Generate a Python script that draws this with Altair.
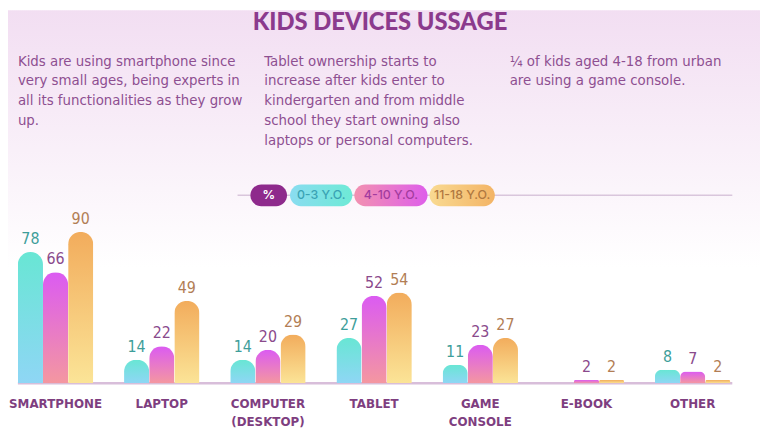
import altair as alt
import pandas as pd

# ---- data ----
categories = ["SMARTPHONE", "LAPTOP", "COMPUTER\n(DESKTOP)", "TABLET", "GAME\nCONSOLE", "E-BOOK", "OTHER"]
ages = ["0-3 Y.O.", "4-10 Y.O.", "11-18 Y.O."]
v_0_3 = [78, 14, 14, 27, 11, None, 8]
v_4_10 = [66, 22, 20, 52, 23, 2, 7]
v_11_18 = [90, 49, 29, 54, 27, 2, 2]

title_text = "KIDS DEVICES USSAGE"
notes = [
    "Kids are using smartphone since\nvery small ages, being experts in\nall its functionalities as they grow\nup.",
    "Tablet ownership starts to\nincrease after kids enter to\nkindergarten and from middle\nschool they start owning also\nlaptops or personal computers.",
    "\u00bc of kids aged 4-18  from urban\nare using a game console.",
]

rows = []
for age, vals in zip(ages, [v_0_3, v_4_10, v_11_18]):
    for c, v in zip(categories, vals):
        rows.append({"cat": c, "age": age, "value": v})
df = pd.DataFrame(rows)

# ---- styles ----
W, H = 760, 435
PURPLE = "#8B3A8D"
TEXT_PURPLE = "#8E4F91"
COND_FONT = "Liberation Sans Narrow, DejaVu Sans Condensed, Roboto, sans-serif"


def vgrad(top, bottom):
    return alt.LinearGradient(gradient="linear",
                              stops=[alt.GradientStop(color=top, offset=0),
                                     alt.GradientStop(color=bottom, offset=1)],
                              x1=0, x2=0, y1=0, y2=1)


def hgrad(left, right):
    return alt.LinearGradient(gradient="linear",
                              stops=[alt.GradientStop(color=left, offset=0),
                                     alt.GradientStop(color=right, offset=1)],
                              x1=0, x2=1, y1=0, y2=0)


bar_grads = [vgrad("#68E6D4", "#8FD6F5"), vgrad("#DB5BF2", "#F497A0"), vgrad("#F2AC5C", "#FBE497")]
label_colors = ["#3E9E9A", "#8A4A8C", "#B27E55"]

xscale = alt.Scale(domain=categories, range=[-5.6, 745.6], paddingInner=0.29, paddingOuter=0.145)
yscale = alt.Scale(domain=[0, 100], range=[377, 207])
xoff = alt.XOffset("age:N", scale=alt.Scale(domain=ages), sort=ages)

one = alt.Data(values=[{"a": 1}])

layers = []
# background
layers.append(alt.Chart(one).mark_rect(color=vgrad("#F2DEF2", "#FFFFFF")).encode(
    x=alt.value(0), x2=alt.value(W), y=alt.value(0), y2=alt.value(260)))

# title
layers.append(alt.Chart(one).mark_text(text=title_text, font="Lato", fontWeight=900, fontSize=24,
                                       color=PURPLE, baseline="top", align="center").encode(
    x=alt.value(376), y=alt.value(1)))

# notes
for note, xpos in zip(notes, [10, 259, 507]):
    layers.append(alt.Chart(one).mark_text(text=note, lineBreak="\n", font=COND_FONT, fontSize=15,
                                           lineHeight=20, color=TEXT_PURPLE, align="left",
                                           baseline="top").encode(
        x=alt.value(xpos), y=alt.value(44)))

# legend line
layers.append(alt.Chart(one).mark_rule(color="#D9C6DC", strokeWidth=1.5).encode(
    x=alt.value(232), x2=alt.value(732), y=alt.value(187)))

# legend pills
pill_specs = [
    ("%", 245, 282, "#8E2A8C", "#FFFFFF"),
    (ages[0], 285, 348, hgrad("#8ADCF0", "#6EEAD6"), "#3AA3B4"),
    (ages[1], 350, 424, hgrad("#F291B0", "#DE5EEA"), "#A23C9E"),
    (ages[2], 426, 492, hgrad("#F9DA92", "#F3B466"), "#B07840"),
]
for lab, x0, x1, fill, tcol in pill_specs:
    layers.append(alt.Chart(one).mark_rect(color=fill, cornerRadius=11).encode(
        x=alt.value(x0), x2=alt.value(x1), y=alt.value(176), y2=alt.value(198)))
    layers.append(alt.Chart(one).mark_text(text=lab, font="Inter, Lato, sans-serif",
                                           fontWeight=700 if lab == "%" else 500,
                                           fontSize=12.5, color=tcol, align="center",
                                           baseline="middle").encode(
        x=alt.value((x0 + x1) / 2), y=alt.value(187)))

# baseline
layers.append(alt.Chart(one).mark_rule(color="#D8BEDA", strokeWidth=2.5).encode(
    x=alt.value(10), x2=alt.value(732), y=alt.value(377)))

# bars and value labels
for age, grad, lcol in zip(ages, bar_grads, label_colors):
    base = alt.Chart(df).transform_filter(alt.datum.age == age).encode(
        x=alt.X("cat:N", scale=xscale, axis=None, sort=categories),
        xOffset=xoff,
        y=alt.Y("value:Q", scale=yscale, axis=None),
    )
    layers.append(base.mark_bar(color=grad, cornerRadiusTopLeft=12.5, cornerRadiusTopRight=12.5))
    layers.append(base.mark_text(font=COND_FONT, fontSize=16, color=lcol, baseline="bottom",
                                 dy=-5).encode(text=alt.Text("value:Q")))

# category labels
cat_df = pd.DataFrame({"cat": categories})
layers.append(alt.Chart(cat_df).mark_text(font="DejaVu Sans", fontWeight="bold", fontSize=12,
                                          color="#7E3E80", lineBreak="\n", lineHeight=18,
                                          baseline="middle").encode(
    x=alt.X("cat:N", scale=xscale, axis=None, sort=categories),
    y=alt.value(398),
    text="cat:N"))

chart = alt.layer(*layers).properties(
    width=W, height=H, padding=0, autosize=alt.AutoSizeParams(type="none"),
    background="#FFFFFF",
).configure_view(stroke=None).resolve_scale(x="shared")

chart.save("out.html", embed_options={"renderer": "svg", "actions": False})
